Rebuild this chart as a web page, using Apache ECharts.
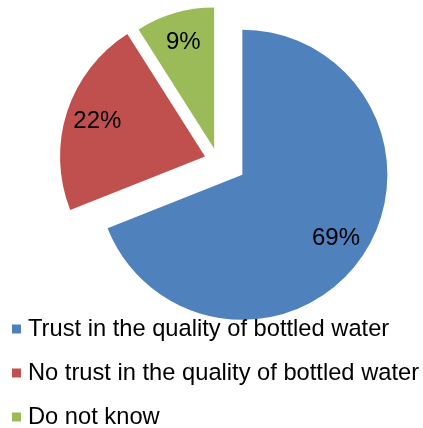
<!DOCTYPE html>
<html>
<head>
<meta charset="utf-8">
<script src="https://cdn.jsdelivr.net/npm/echarts@6/dist/echarts.min.js"></script>
<style>
  html, body { margin: 0; padding: 0; background: #fff; }
  #chart { width: 423px; height: 428px; }
</style>
</head>
<body>
<div id="chart"></div>
<script>
const categories = [
  'Trust in the quality of bottled water',
  'No trust in the quality of bottled water',
  'Do not know'
];
const shares = [69, 22, 9];
const colors = ['#4F81BD', '#C0504D', '#9BBB59'];

const FONT = '"Liberation Sans", Arial, sans-serif';
const NONE = 'rgba(0,0,0,0)';
const chart = echarts.init(document.getElementById('chart'));

// one pie per explosion group; slices outside the group are left invisible
const makePie = (group, center, radius, offset) => {
  const base = {
    type: 'pie',
    center: center,
    startAngle: 90,
    clockwise: true,
    selectedMode: 'multiple',
    selectedOffset: offset,
    silent: true,
    emphasis: { disabled: true },
    labelLine: { show: false }
  };
  const fill = Object.assign({}, base, {
    radius: [0, radius],
    label: { show: false },
    data: categories.map((name, i) => ({
      name: name,
      value: shares[i],
      selected: true,
      itemStyle: { color: group.includes(i) ? colors[i] : NONE }
    }))
  });
  // invisible ring, only there to push the labels further out
  const labels = Object.assign({}, base, {
    radius: [radius * 0.52, radius],
    itemStyle: { color: NONE },
    label: {
      position: 'inside',
      formatter: '{c}%',
      fontFamily: FONT,
      fontSize: 24,
      color: '#000'
    },
    data: categories.map((name, i) => ({
      name: name,
      value: shares[i],
      selected: true,
      label: { show: group.includes(i) }
    }))
  });
  return [fill, labels];
};

chart.setOption({
  animation: false,
  legend: {
    orient: 'vertical',
    left: 12,
    top: 317,
    height: 140,
    padding: 0,
    icon: 'rect',
    itemWidth: 9,
    itemHeight: 9,
    itemGap: 20,
    selectedMode: false,
    data: categories.map((name, i) => ({ name: name, itemStyle: { color: colors[i] } })),
    textStyle: {
      fontFamily: FONT,
      fontSize: 23.7,
      lineHeight: 22,
      color: '#000',
      padding: [0, 0, 0, 2]
    }
  },
  series: [
    ...makePie([0, 1], [225, 163], 145, 21),
    ...makePie([2], [218, 162], 141, 14)
  ]
});
</script>
</body>
</html>
